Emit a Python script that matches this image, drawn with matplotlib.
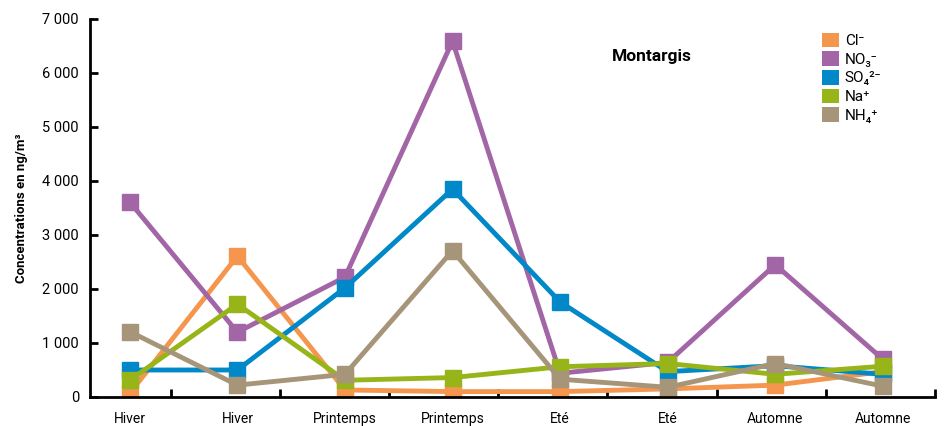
import numpy as np
import matplotlib.pyplot as plt
from matplotlib.patches import Patch
from matplotlib.ticker import FuncFormatter

plt.rcParams['font.family'] = ['Roboto', 'DejaVu Sans']

saisons = ['Hiver', 'Hiver', 'Printemps', 'Printemps', 'Eté', 'Eté', 'Automne', 'Automne']
cl = [70, 2610, 130, 100, 100, 150, 220, 470]
no3 = [3610, 1200, 2220, 6590, 440, 640, 2450, 700]
so4 = [500, 500, 2020, 3850, 1760, 470, 580, 420]
na = [310, 1720, 310, 360, 560, 620, 420, 570]
nh4 = [1210, 220, 420, 2710, 330, 180, 620, 200]

series = [
    ('Cl⁻', cl, '#F4964E'),
    ('NO₃⁻', no3, '#A265A6'),
    ('SO₄²⁻', so4, '#0088C8'),
    ('Na⁺', na, '#97B518'),
    ('NH₄⁺', nh4, '#A69578'),
]

fig = plt.figure(figsize=(9.47, 4.26), dpi=100)
ax = fig.add_axes([90 / 947, 1 - 397 / 426, (935 - 90) / 947, (397 - 19) / 426])

x = np.arange(len(saisons))
for name, vals, col in series:
    ax.plot(x, vals, color=col, lw=3.5, marker='s', ms=11.5, solid_joinstyle='miter')

ax.set_xlim(-0.37, 7.48)
ax.set_ylim(0, 7000)
ax.set_yticks(np.arange(0, 7001, 1000))
ax.yaxis.set_major_formatter(FuncFormatter(lambda v, p: '{:,.0f}'.format(v).replace(',', ' ')))
ax.set_xticks(x)
ax.set_xticklabels(saisons)
ax.tick_params(axis='x', which='major', length=0, pad=11, labelsize=10)
ax.set_xticks([0.38 + 1.015 * k for k in range(8)], minor=True)
ax.tick_params(axis='x', which='minor', direction='in', length=6, width=2)
ax.tick_params(axis='y', direction='in', length=6, width=2, labelsize=10.5, pad=8)

for s in ['top', 'right']:
    ax.spines[s].set_visible(False)
for s in ['left', 'bottom']:
    ax.spines[s].set_linewidth(2)

ax.set_ylabel('Concentrations en ng/m³', fontsize=9.5, fontweight='bold', labelpad=10)
ax.text(0.665, 0.9, 'Montargis', transform=ax.transAxes, fontsize=12.5, fontweight='bold', ha='center', va='center')

handles = [Patch(facecolor=c, label=n) for n, v, c in series]
ax.legend(handles=handles, loc='upper left', bbox_to_anchor=(0.85, 1.0), frameon=False,
          handlelength=1.1, handleheight=1.1, handletextpad=0.4, labelspacing=0.2, fontsize=11)

fig.savefig('out.png', dpi=100)
